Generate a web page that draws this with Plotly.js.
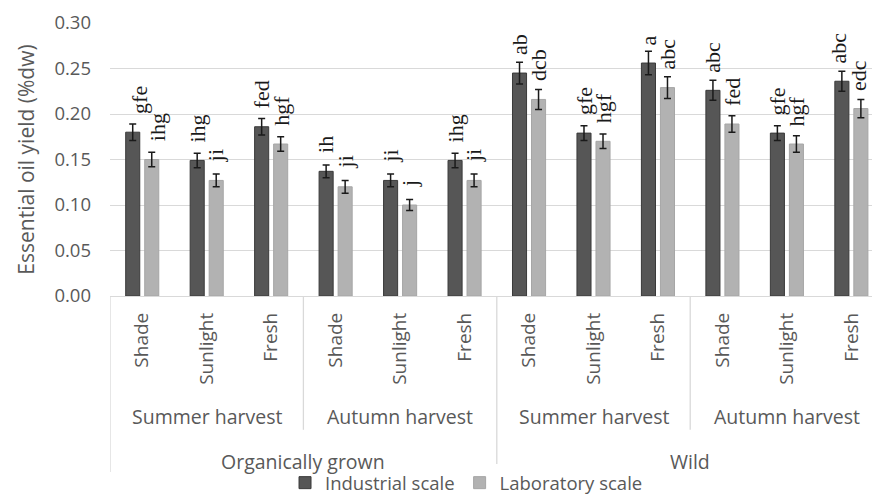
<!DOCTYPE html>
<html>
<head>
<meta charset="utf-8">
<script src="https://cdn.plot.ly/plotly-3.0.1.min.js"></script>
<style>
html,body{margin:0;padding:0;background:#fff;overflow:hidden;}
#chart{width:872px;height:495px;}
</style>
</head>
<body>
<div id="chart"></div>
<script>
// ---- data ----
const origins = ['Organically grown', 'Wild'];
const harvests = ['Summer harvest', 'Autumn harvest'];
const conditions = ['Shade', 'Sunlight', 'Fresh'];

const industrial = [0.180, 0.149, 0.186, 0.137, 0.127, 0.149, 0.245, 0.179, 0.256, 0.226, 0.179, 0.236];
const laboratory = [0.150, 0.127, 0.167, 0.120, 0.100, 0.127, 0.216, 0.170, 0.229, 0.189, 0.167, 0.206];
const industrialErr = [0.009, 0.008, 0.009, 0.007, 0.007, 0.008, 0.012, 0.008, 0.013, 0.011, 0.008, 0.011];
const laboratoryErr = [0.008, 0.007, 0.008, 0.007, 0.006, 0.007, 0.011, 0.008, 0.012, 0.009, 0.009, 0.010];
const industrialLetters = ['gfe', 'ihg', 'fed', 'ih', 'ji', 'ihg', 'ab', 'gfe', 'a', 'abc', 'gfe', 'abc'];
const laboratoryLetters = ['ihg', 'ji', 'hgf', 'ji', 'j', 'ji', 'dcb', 'hgf', 'abc', 'fed', 'hgf', 'edc'];
const seriesNames = ['Industrial scale', 'Laboratory scale'];

// ---- build category keys ----
const keys = [], tickText = [];
origins.forEach(o => harvests.forEach(h => conditions.forEach(c => {
  keys.push(o + ' | ' + h + ' | ' + c);
  tickText.push(c);
})));

const txtGray = '#595959';
const gridGray = '#d9d9d9';
const sans = 'Open Sans, sans-serif';

const traces = [
  {
    type: 'bar', name: seriesNames[0], x: keys, y: industrial,
    marker: {color: '#565656', line: {color: '#3a3a3a', width: 1}},
    error_y: {type: 'data', array: industrialErr, visible: true, color: '#1a1a1a', thickness: 1.5, width: 3.5},
    hoverinfo: 'skip'
  },
  {
    type: 'bar', name: seriesNames[1], x: keys, y: laboratory,
    marker: {color: '#b2b2b2', line: {color: '#a6a6a6', width: 1}},
    error_y: {type: 'data', array: laboratoryErr, visible: true, color: '#1a1a1a', thickness: 1.5, width: 3.5},
    hoverinfo: 'skip'
  }
];

const annotations = [];
const barOff = 9.5;
const letterFont = {family: 'Liberation Serif, serif', size: 22, color: '#1a1a1a'};
const lastIdx = keys.length - 1;
keys.forEach((k, i) => {
  // first pair of labels sits slightly right in the reference; the last is kept inside the page edge
  const extra = i === 0 ? 6 : (i === lastIdx ? -3 : 0);
  annotations.push({x: i, y: industrial[i], xref: 'x', yref: 'y', text: industrialLetters[i],
    textangle: -90, showarrow: false, xanchor: 'center', yanchor: 'bottom',
    xshift: -barOff + extra, yshift: 16, font: letterFont});
  annotations.push({x: i, y: laboratory[i], xref: 'x', yref: 'y', text: laboratoryLetters[i],
    textangle: -90, showarrow: false, xanchor: 'center', yanchor: 'bottom',
    xshift: barOff + extra, yshift: 16, font: letterFont});
});

// harvest group labels
const nC = conditions.length;
origins.forEach((o, oi) => harvests.forEach((h, hi) => {
  const start = (oi * harvests.length + hi) * nC;
  annotations.push({x: start + (nC - 1) / 2, y: -0.44, xref: 'x', yref: 'paper', text: h,
    showarrow: false, xanchor: 'center', yanchor: 'middle',
    font: {family: sans, size: 19.5, color: txtGray}});
}));
// origin labels
origins.forEach((o, oi) => {
  const span = harvests.length * nC;
  annotations.push({x: oi * span + (span - 1) / 2, y: -0.605, xref: 'x', yref: 'paper', text: o,
    showarrow: false, xanchor: 'center', yanchor: 'middle',
    font: {family: sans, size: 19.5, color: txtGray}});
});

// divider lines
const shapes = [];
for (let g = 0; g < origins.length * harvests.length; g++) {
  const xpos = g * nC - 0.5;
  const isOrigin = (g % harvests.length) === 0;
  shapes.push({type: 'line', xref: 'x', yref: 'paper', x0: xpos, x1: xpos, y0: 0,
    y1: isOrigin ? -0.645 : -0.49, line: {color: gridGray, width: 1.3}});
}

const layout = {
  width: 872, height: 495,
  margin: {l: 110, r: 0, t: 23, b: 199},
  paper_bgcolor: '#fff', plot_bgcolor: '#fff',
  barmode: 'group', bargap: 0.41, bargroupgap: 0.26,
  showlegend: true,
  legend: {orientation: 'h', xref: 'container', yref: 'container', x: 0.535, y: 0.024,
    xanchor: 'center', yanchor: 'middle', font: {family: sans, size: 18.5, color: txtGray},
    itemwidth: 30, traceorder: 'normal'},
  xaxis: {
    type: 'category', categoryorder: 'array', categoryarray: keys,
    tickvals: keys, ticktext: tickText, tickangle: -90,
    range: [-0.5, 11.32], ticks: '', showgrid: false, zeroline: false,
    showline: true, linecolor: gridGray, linewidth: 1.3,
    ticklabelstandoff: 8,
    tickfont: {family: sans, size: 19, color: txtGray}
  },
  yaxis: {
    range: [0, 0.30], dtick: 0.05, tick0: 0, tickformat: '.2f',
    showgrid: true, gridcolor: gridGray, gridwidth: 1.3, zeroline: false,
    ticks: '', ticklabelstandoff: 18,
    tickfont: {family: sans, size: 18.5, color: txtGray},
    title: {text: 'Essential oil yield (%dw)', standoff: 14,
      font: {family: sans, size: 21, color: txtGray}}
  },
  annotations: annotations,
  shapes: shapes
};

Plotly.newPlot('chart', traces, layout, {displayModeBar: false});
</script>
</body>
</html>
